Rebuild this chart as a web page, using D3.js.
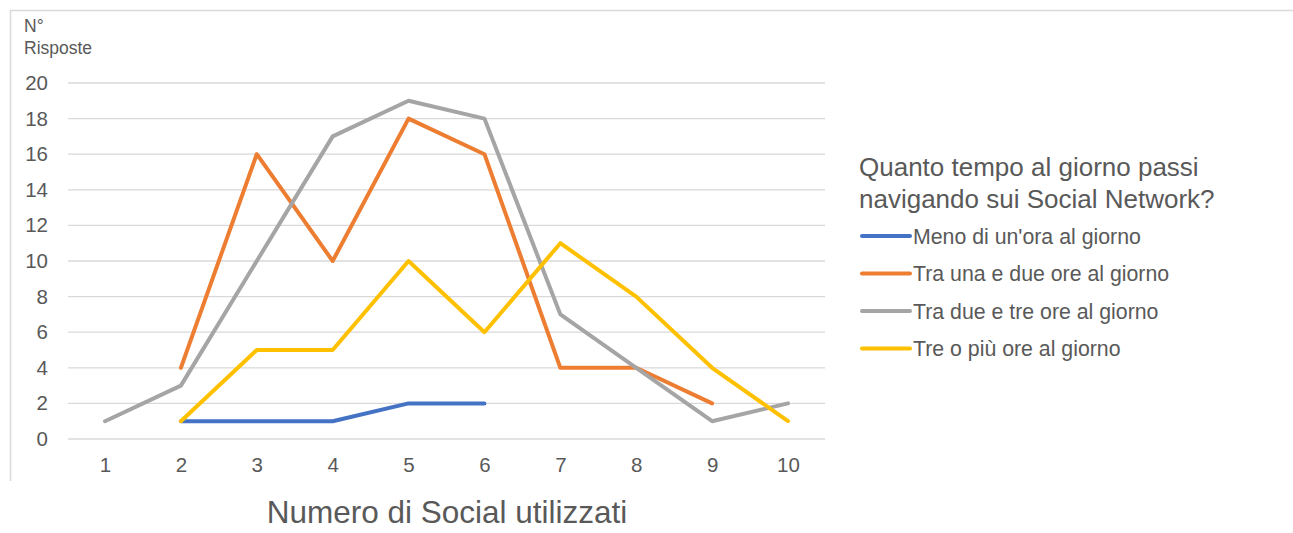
<!DOCTYPE html>
<html>
<head>
<meta charset="utf-8">
<script src="https://cdn.jsdelivr.net/npm/d3@7"></script>
<style>
  body { margin: 0; background: #fff; }
  svg { font-family: "Liberation Sans", Arial, sans-serif; }
  .grid line { stroke: #d9d9d9; stroke-width: 1.3; }
</style>
</head>
<body>
<svg width="1293" height="533"></svg>
<script>
// dati
const categories = [1, 2, 3, 4, 5, 6, 7, 8, 9, 10];
const seriesNames = [
  "Meno di un'ora al giorno",
  "Tra una e due ore al giorno",
  "Tra due e tre ore al giorno",
  "Tre o più ore al giorno"
];
const menoUnOra = [null, 1, 1, 1, 2, 2, null, null, null, null];
const unaDueOre = [null, 4, 16, 10, 18, 16, 4, 4, 2, null];
const dueTreOre = [1, 3, 10, 17, 19, 18, 7, 4, 1, 2];
const treOPiu = [null, 1, 5, 5, 10, 6, 11, 8, 4, 1];
const yTicks = [0, 2, 4, 6, 8, 10, 12, 14, 16, 18, 20];
const colors = ["#4472C4", "#ED7D31", "#A5A5A5", "#FFC000"];

const series = [menoUnOra, unaDueOre, dueTreOre, treOPiu];

const svg = d3.select("svg");

// cornice
svg.append("path")
  .attr("d", "M10.5,481 L10.5,10.5 L1293,10.5")
  .attr("fill", "none")
  .attr("stroke", "#d9d9d9")
  .attr("stroke-width", 1.5);

// scale
const x = d3.scalePoint().domain(categories).range([105, 788]);
const y = d3.scaleLinear().domain([0, 20]).range([439, 83]);

// griglia
svg.append("g").attr("class", "grid")
  .selectAll("line")
  .data(yTicks)
  .enter()
  .append("line")
  .attr("x1", 68).attr("x2", 825)
  .attr("y1", d => y(d)).attr("y2", d => y(d));

// etichette assi
const yAxis = svg.append("g")
  .attr("transform", "translate(56,0)")
  .call(d3.axisLeft(y).tickValues(yTicks).tickSize(0).tickPadding(8));
const xAxis = svg.append("g")
  .attr("transform", "translate(0,452)")
  .call(d3.axisBottom(x).tickSize(0).tickPadding(2));
[yAxis, xAxis].forEach(a => {
  a.select(".domain").remove();
  a.selectAll("text")
    .attr("fill", "#595959")
    .style("font-size", "20.5px")
    .style("font-family", "'Liberation Sans', Arial, sans-serif");
});
xAxis.selectAll("text").attr("dy", "0.9em");

svg.append("text")
  .attr("x", 24).attr("y", 32)
  .attr("fill", "#595959").style("font-size", "17.5px")
  .text("N°");
svg.append("text")
  .attr("x", 24).attr("y", 54)
  .attr("fill", "#595959").style("font-size", "17.5px")
  .text("Risposte");

svg.append("text")
  .attr("x", 447).attr("y", 523)
  .attr("text-anchor", "middle")
  .attr("fill", "#595959").style("font-size", "31.5px")
  .text("Numero di Social utilizzati");

// linee
const line = d3.line()
  .defined(d => d.v != null)
  .x(d => x(d.c))
  .y(d => y(d.v));

series.forEach((s, i) => {
  svg.append("path")
    .datum(categories.map((c, j) => ({ c: c, v: s[j] })))
    .attr("fill", "none")
    .attr("stroke", colors[i])
    .attr("stroke-width", 4)
    .attr("stroke-linejoin", "round")
    .attr("stroke-linecap", "round")
    .attr("d", line);
});

// legenda
const legend = svg.append("g");
legend.append("text")
  .attr("x", 859).attr("y", 176)
  .attr("fill", "#595959").style("font-size", "26px")
  .text("Quanto tempo al giorno passi");
legend.append("text")
  .attr("x", 859).attr("y", 208)
  .attr("fill", "#595959").style("font-size", "26px")
  .text("navigando sui Social Network?");

const item = legend.selectAll(".item")
  .data(seriesNames)
  .enter()
  .append("g")
  .attr("transform", (d, i) => `translate(0,${236 + i * 37.5})`);
item.append("line")
  .attr("x1", 862).attr("x2", 910)
  .attr("stroke", (d, i) => colors[i])
  .attr("stroke-width", 4)
  .attr("stroke-linecap", "round");
item.append("text")
  .attr("x", 913).attr("y", 7.5)
  .attr("fill", "#595959").style("font-size", "21.3px")
  .text(d => d);
</script>
</body>
</html>
